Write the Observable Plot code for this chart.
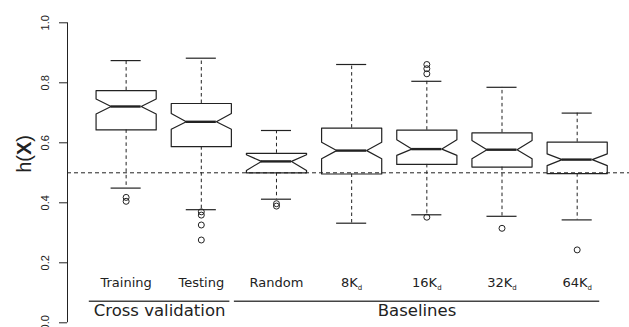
<!DOCTYPE html>
<html><head><meta charset="utf-8">
<script src="https://cdn.jsdelivr.net/npm/d3@7"></script>
<script src="https://cdn.jsdelivr.net/npm/@observablehq/plot@0.6"></script>
<style>html,body{margin:0;padding:0;background:#fff;overflow:hidden}</style>
</head><body><div id="chart"></div>
<script>
// ---- data ----
const categories = ["Training", "Testing", "Random", "8Kd", "16Kd", "32Kd", "64Kd"];
const whiskerLo = [0.449, 0.377, 0.412, 0.332, 0.360, 0.355, 0.343];
const q1        = [0.643, 0.587, 0.500, 0.496, 0.528, 0.519, 0.497];
const notchLo   = [0.696, 0.645, 0.508, 0.547, 0.558, 0.547, 0.524];
const median    = [0.721, 0.670, 0.538, 0.574, 0.579, 0.577, 0.544];
const notchHi   = [0.746, 0.698, 0.560, 0.602, 0.610, 0.608, 0.563];
const q3        = [0.774, 0.731, 0.565, 0.649, 0.642, 0.633, 0.602];
const whiskerHi = [0.874, 0.882, 0.641, 0.861, 0.805, 0.785, 0.699];
const outlierCat = ["Training", "Training", "Testing", "Testing", "Testing", "Testing",
                    "Random", "Random", "16Kd", "16Kd", "16Kd", "16Kd", "32Kd", "64Kd"];
const outlierVal = [0.418, 0.405, 0.370, 0.359, 0.326, 0.276,
                    0.397, 0.389, 0.861, 0.847, 0.830, 0.352, 0.315, 0.243];
const groupNames = ["Cross validation", "Baselines"];
const groupStart = [0.51, 2.44];
const groupEnd   = [2.38, 7.30];
const yTicks = [0, 0.2, 0.4, 0.6, 0.8, 1.0];
const refLine = [0.5];
const yLabel = "h(X)";

// ---- layout ----
const ink = "#222";
const xMin = 0.22, xMax = 7.696;
const W = 0.4, NW = 0.2, CAP = 0.2;

const boxes = categories.map((name, i) => ({
  name, x: i + 1, lo: whiskerLo[i], q1: q1[i], nlo: notchLo[i], med: median[i],
  nhi: notchHi[i], q3: q3[i], hi: whiskerHi[i]
}));
const outline = boxes.flatMap(b => [
  [b.x - W, b.q1], [b.x - W, b.nlo], [b.x - NW, b.med], [b.x - W, b.nhi], [b.x - W, b.q3],
  [b.x + W, b.q3], [b.x + W, b.nhi], [b.x + NW, b.med], [b.x + W, b.nlo], [b.x + W, b.q1]
].map(([x, y]) => ({id: b.name, x, y})));
const outlierPts = outlierCat.map((c, i) => ({x: categories.indexOf(c) + 1, y: outlierVal[i]}));
const groups = groupNames.map((name, i) => ({name, start: groupStart[i], end: groupEnd[i]}));

const sans = "Liberation Sans, Arial, Helvetica, sans-serif";

const chart = Plot.plot({
  width: 629, height: 327,
  marginLeft: 67, marginRight: 0, marginTop: 22.3, marginBottom: 4.7,
  x: {domain: [xMin, xMax], axis: null},
  y: {domain: [0, 1], axis: null},
  style: {fontFamily: "DejaVu Sans", background: "white", color: ink, overflow: "visible"},
  marks: [
    Plot.ruleY(refLine, {stroke: ink, strokeWidth: 1, strokeDasharray: "4,3"}),
    Plot.ruleX([xMin], {y1: 0, y2: 1, stroke: ink, strokeWidth: 1}),
    Plot.axisY(yTicks, {tickSize: 8, tickPadding: 11, tickRotate: -90,
      tickFormat: d => d.toFixed(1), fontSize: 11, fontFamily: sans, label: null}),
    Plot.text([yLabel], {frameAnchor: "left", rotate: -90, dx: -43, fontSize: 20,
      fontFamily: sans, fill: ink}),
    // whiskers
    Plot.ruleX(boxes, {x: "x", y1: "q3", y2: "hi", stroke: ink, strokeWidth: 1, strokeDasharray: "3.5,3"}),
    Plot.ruleX(boxes, {x: "x", y1: "q1", y2: "lo", stroke: ink, strokeWidth: 1, strokeDasharray: "3.5,3"}),
    Plot.ruleY(boxes, {y: "hi", x1: d => d.x - CAP, x2: d => d.x + CAP, stroke: ink, strokeWidth: 1.2}),
    Plot.ruleY(boxes, {y: "lo", x1: d => d.x - CAP, x2: d => d.x + CAP, stroke: ink, strokeWidth: 1.2}),
    // notched boxes
    Plot.line(outline, {x: "x", y: "y", z: "id", curve: "linear-closed", stroke: ink, strokeWidth: 1.2}),
    Plot.ruleY(boxes, {y: "med", x1: d => d.x - NW, x2: d => d.x + NW, stroke: ink, strokeWidth: 2.4}),
    Plot.dot(outlierPts, {x: "x", y: "y", r: 3, stroke: ink, fill: "none", strokeWidth: 1}),
    // category labels
    Plot.text(categories, {x: (d, i) => i + 1, frameAnchor: "bottom", dy: -35.8, text: d => d,
      fontSize: 13, fill: ink}),
    // group underlines and names
    Plot.ruleY(groups, {y: () => 0, x1: "start", x2: "end", dy: -21.6, stroke: "#444", strokeWidth: 1.5}),
    Plot.text(groups, {x: d => (d.start + d.end) / 2, frameAnchor: "bottom", dy: -6.9, text: "name",
      fontSize: 16.5, fill: ink})
  ]
});
document.getElementById("chart").appendChild(chart);

// rich text: bold X in the y label, subscript d in K_d labels
const NS = "http://www.w3.org/2000/svg";
chart.querySelectorAll("text").forEach(t => {
  const s = t.textContent;
  if (s === yLabel) {
    t.textContent = "h(";
    const b = document.createElementNS(NS, "tspan");
    b.setAttribute("font-weight", "bold");
    b.textContent = "X";
    t.appendChild(b);
    t.appendChild(document.createTextNode(")"));
  } else if (/^\d+Kd$/.test(s)) {
    t.textContent = s.slice(0, -1);
    const sub = document.createElementNS(NS, "tspan");
    sub.setAttribute("font-size", "7");
    sub.setAttribute("dy", "2.5");
    sub.textContent = "d";
    t.appendChild(sub);
  }
});
</script>
</body></html>
